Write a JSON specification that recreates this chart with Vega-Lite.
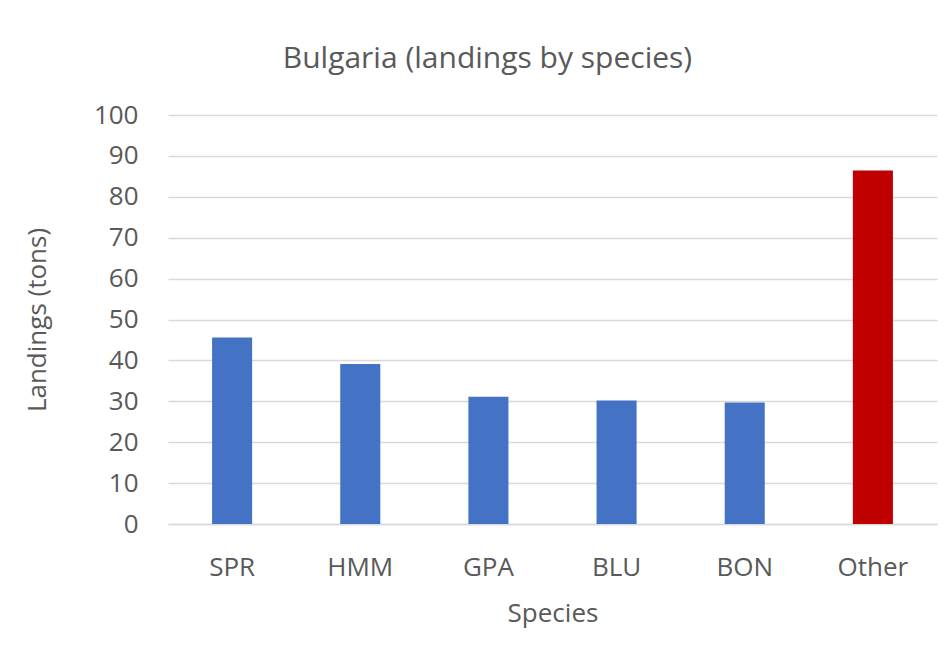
{
  "$schema": "https://vega.github.io/schema/vega-lite/v6.json",
  "autosize": "none",
  "width": 769,
  "height": 409,
  "padding": {"left": 168, "top": 115, "right": 15, "bottom": 133},
  "background": "white",
  "title": {
    "text": "Bulgaria (landings by species)",
    "font": "Open Sans",
    "fontSize": 30,
    "fontWeight": "normal",
    "color": "#595959",
    "anchor": "middle",
    "dx": -65,
    "offset": 28
  },
  "data": {
    "values": [
      {"species": "SPR", "landings": 45.6},
      {"species": "HMM", "landings": 39.1},
      {"species": "GPA", "landings": 31.1},
      {"species": "BLU", "landings": 30.2},
      {"species": "BON", "landings": 29.7},
      {"species": "Other", "landings": 86.4}
    ]
  },
  "mark": {"type": "bar", "stroke": null},
  "encoding": {
    "x": {
      "field": "species",
      "type": "nominal",
      "sort": null,
      "scale": {"paddingInner": 0.6875, "paddingOuter": 0.344},
      "axis": {
        "title": "Species",
        "titleFont": "Open Sans",
        "titleFontSize": 26,
        "titleFontWeight": "normal",
        "titleColor": "#595959",
        "titleBaseline": "middle",
        "titleY": 89,
        "labelFont": "Open Sans",
        "labelFontSize": 26,
        "labelColor": "#595959",
        "labelAngle": 0,
        "labelPadding": 30,
        "labelBaseline": "top",
        "ticks": false,
        "domain": true,
        "domainColor": "#D9D9D9",
        "domainWidth": 1.5,
        "grid": false
      }
    },
    "y": {
      "field": "landings",
      "type": "quantitative",
      "scale": {"domain": [0, 100], "nice": false},
      "axis": {
        "title": "Landings (tons)",
        "titleFont": "Open Sans",
        "titleFontSize": 26,
        "titleFontWeight": "normal",
        "titleColor": "#595959",
        "titleX": -131,
        "titleY": 204.5,
        "titleAngle": -90,
        "titleAlign": "center",
        "titleBaseline": "middle",
        "values": [0, 10, 20, 30, 40, 50, 60, 70, 80, 90, 100],
        "labelFont": "Open Sans",
        "labelFontSize": 26,
        "labelColor": "#595959",
        "labelPadding": 30,
        "ticks": false,
        "domain": false,
        "grid": true,
        "gridColor": "#D9D9D9",
        "gridWidth": 1.5
      }
    },
    "color": {
      "field": "species",
      "type": "nominal",
      "scale": {
        "domain": ["SPR", "HMM", "GPA", "BLU", "BON", "Other"],
        "range": ["#4472C4", "#4472C4", "#4472C4", "#4472C4", "#4472C4", "#C00000"]
      },
      "legend": null
    }
  },
  "config": {"view": {"stroke": null}}
}
